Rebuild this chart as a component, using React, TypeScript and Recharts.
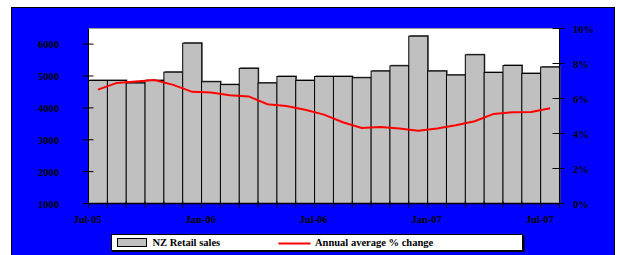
import React from 'react';
import { ComposedChart, Bar, Line, XAxis, YAxis, CartesianGrid, ReferenceLine } from 'recharts';

const months = [
  'Jul-05', 'Aug-05', 'Sep-05', 'Oct-05', 'Nov-05', 'Dec-05',
  'Jan-06', 'Feb-06', 'Mar-06', 'Apr-06', 'May-06', 'Jun-06',
  'Jul-06', 'Aug-06', 'Sep-06', 'Oct-06', 'Nov-06', 'Dec-06',
  'Jan-07', 'Feb-07', 'Mar-07', 'Apr-07', 'May-07', 'Jun-07', 'Jul-07',
];
const retailSales = [
  4860, 4860, 4780, 4860, 5120, 6030, 4820, 4730, 5240, 4780, 4985, 4860,
  4985, 4985, 4945, 5155, 5320, 6250, 5155, 5030, 5665, 5110, 5330, 5080, 5280,
];
const annualChange = [
  6.51, 6.89, 6.97, 7.06, 6.78, 6.38, 6.34, 6.18, 6.12, 5.67, 5.57, 5.36,
  5.08, 4.64, 4.31, 4.37, 4.29, 4.16, 4.28, 4.47, 4.7, 5.12, 5.21, 5.23, 5.44,
];
const xLabels = ['Jul-05', 'Jan-06', 'Jul-06', 'Jan-07', 'Jul-07'];
const leftTicks = [1000, 2000, 3000, 4000, 5000, 6000];
const rightTicks = [0, 2, 4, 6, 8, 10];
const seriesNames = ['NZ Retail sales', 'Annual average % change'];

const data = months.map((m, i) => ({
  month: m,
  pos: i + 0.5,
  sales: retailSales[i],
  change: annualChange[i],
}));
const boundaryTicks = Array.from({ length: months.length + 1 }, (_, i) => i);

const FONT = '"Liberation Serif", "Times New Roman", serif';
const textStyle = { fontFamily: FONT, fontWeight: 700, fontSize: 10.5, fill: '#000' } as const;

const LeftTick = (props: any) => {
  const { x, y, payload } = props;
  return (
    <g>
      <line x1={x - 5.5} x2={x + 5} y1={y} y2={y} stroke="#000" strokeWidth={1} />
      <text x={x - 29.5} y={y + 4} textAnchor="end" style={textStyle}>{payload.value}</text>
    </g>
  );
};

const RightTick = (props: any) => {
  const { x, y, payload } = props;
  return (
    <g>
      <line x1={x - 7} x2={x + 5} y1={y} y2={y} stroke="#000" strokeWidth={1} />
      <text x={x + 13.5} y={y + 4} textAnchor="start" style={textStyle}>{`${payload.value}%`}</text>
    </g>
  );
};

const BottomTick = (props: any) => {
  const { x, y, payload } = props;
  const v = payload.value as number;
  const m = months[v];
  const label = m && xLabels.includes(m) ? m : '';
  return (
    <g>
      <line x1={x} x2={x} y1={y - 2} y2={y + 4} stroke="#000" strokeWidth={1} />
      {label ? (
        <text x={x - 1} y={y + 19.5} textAnchor="middle" style={textStyle}>{label}</text>
      ) : null}
    </g>
  );
};

const BarShape = (props: any) => {
  const { x, y, width, height } = props;
  return (
    <g>
      <rect x={x + 1} y={y - 1} width={width} height={height + 1} fill="#555" />
      <rect x={x} y={y} width={width} height={height} fill="#C0C0C0" stroke="#000" strokeWidth={1} />
    </g>
  );
};

export default function App() {
  return (
    <div style={{ position: 'absolute', left: 0, top: 0, width: 620, height: 255, background: '#fff', overflow: 'hidden' }}>
      <div
        style={{
          position: 'absolute', left: 11, top: 7, width: 604, height: 260,
          background: '#0000FF', border: '1px solid #000', boxSizing: 'border-box',
        }}
      />
      <div style={{ position: 'absolute', left: 0, top: 0 }}>
        <ComposedChart
          width={620}
          height={255}
          data={data}
          margin={{ top: 28.5, right: 0.5, bottom: 31.5, left: 0.5 }}
          barCategoryGap={0}
          barGap={0}
        >
          <CartesianGrid xAxisId="num" yAxisId="r" horizontal={false} vertical={false} fill="#fff" stroke="none" />
          <XAxis xAxisId="cat" dataKey="month" type="category" hide height={0} />
          <XAxis
            xAxisId="num"
            dataKey="pos"
            type="number"
            domain={[0, months.length]}
            ticks={boundaryTicks}
            interval={0}
            allowDataOverflow
            height={20}
            tickSize={0}
            tickMargin={0}
            tickLine={false}
            axisLine={{ stroke: '#000', strokeWidth: 1.5 }}
            tick={<BottomTick />}
          />
          <YAxis
            yAxisId="l"
            orientation="left"
            width={88}
            domain={[1000, 6490]}
            ticks={leftTicks}
            interval={0}
            allowDataOverflow
            tickSize={0}
            tickMargin={0}
            tickLine={false}
            axisLine={{ stroke: '#000', strokeWidth: 1 }}
            tick={<LeftTick />}
          />
          <YAxis
            yAxisId="r"
            orientation="right"
            width={60}
            domain={[0, 10]}
            ticks={rightTicks}
            interval={0}
            allowDataOverflow
            tickSize={0}
            tickMargin={0}
            tickLine={false}
            axisLine={{ stroke: '#000', strokeWidth: 1 }}
            tick={<RightTick />}
          />
          <ReferenceLine xAxisId="num" yAxisId="r" y={10} stroke="#9a9a9a" strokeWidth={1} />
          <Bar
            xAxisId="cat"
            yAxisId="l"
            dataKey="sales"
            name={seriesNames[0]}
            fill="#C0C0C0"
            shape={<BarShape />}
            isAnimationActive={false}
          />
          <Line
            xAxisId="num"
            yAxisId="r"
            dataKey="change"
            name={seriesNames[1]}
            type="linear"
            stroke="#FF0000"
            strokeWidth={2}
            dot={false}
            activeDot={false}
            isAnimationActive={false}
          />
        </ComposedChart>
      </div>
      <svg width={620} height={255} style={{ position: 'absolute', left: 0, top: 0, pointerEvents: 'none' }}>
        <rect x={112.5} y={235.5} width={412} height={16.5} fill="#000" />
        <rect x={111.5} y={234.5} width={411} height={16} fill="#fff" stroke="#000" strokeWidth={1} />
        <rect x={117.5} y={238.5} width={29} height={8} fill="#C0C0C0" stroke="#000" strokeWidth={1} />
        <text x={152.5} y={246} style={textStyle}>{seriesNames[0]}</text>
        <line x1={278.5} x2={310.5} y1={243.5} y2={243.5} stroke="#FF0000" strokeWidth={2} />
        <text x={315} y={246} style={textStyle}>{seriesNames[1]}</text>
      </svg>
    </div>
  );
}
